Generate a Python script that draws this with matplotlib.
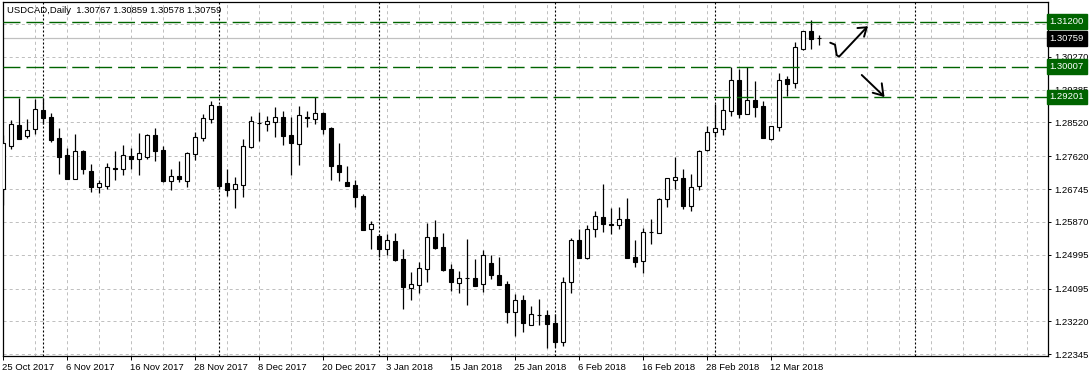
import matplotlib
matplotlib.use('Agg')
import matplotlib.pyplot as plt
import matplotlib.transforms as mtransforms

plt.rcParams['font.family'] = ['Liberation Sans', 'DejaVu Sans']
plt.rcParams['lines.scale_dashes'] = False

# USDCAD daily candles, 25 Oct 2017 .. 20 Mar 2018
opens = [1.26747, 1.27900, 1.28443, 1.28166, 1.28337, 1.28851, 1.28656, 1.28105, 1.27652, 1.27021,
         1.27759, 1.27226, 1.26808, 1.26835, 1.27300, 1.27288, 1.27626, 1.27554, 1.27607, 1.28177,
         1.27785, 1.26968, 1.27093, 1.26968, 1.27687, 1.28113, 1.28619, 1.28949, 1.26899, 1.26739,
         1.26861, 1.27857, 1.28512, 1.28486, 1.28539, 1.28664, 1.28185, 1.27937, 1.28656, 1.28603,
         1.28771, 1.28371, 1.27386, 1.26925, 1.26853, 1.26561, 1.25674, 1.25495, 1.25141, 1.25354,
         1.24883, 1.24119, 1.24198, 1.24625, 1.25461, 1.25194, 1.24608, 1.24252, 1.24369, 1.24369,
         1.24209, 1.24768, 1.24449, 1.24209, 1.23463, 1.23783, 1.23117, 1.23399, 1.23384, 1.23170,
         1.22681, 1.24262, 1.25381, 1.24917, 1.25674, 1.26001, 1.25815, 1.25780, 1.25940, 1.24928,
         1.24838, 1.25590, 1.25567, 1.26473, 1.26979, 1.27032, 1.26302, 1.26819, 1.27785, 1.28273,
         1.28337, 1.28832, 1.29642, 1.28752, 1.29117, 1.28957, 1.28086, 1.28406, 1.29676, 1.29562,
         1.30467, 1.30954, 1.30767]
highs = [1.28185, 1.28584, 1.29170, 1.28611, 1.29144, 1.29162, 1.28763, 1.28371, 1.27839, 1.28212,
         1.27785, 1.27413, 1.26987, 1.27431, 1.27759, 1.27919, 1.27839, 1.28230, 1.28204, 1.28371,
         1.27892, 1.27280, 1.27493, 1.27732, 1.28265, 1.28744, 1.29090, 1.28984, 1.27280, 1.27066,
         1.28078, 1.28683, 1.28797, 1.28683, 1.28923, 1.28824, 1.28656, 1.28957, 1.28824, 1.29201,
         1.28805, 1.28390, 1.27972, 1.27359, 1.26987, 1.26614, 1.25895, 1.25549, 1.25549, 1.25575,
         1.25149, 1.24537, 1.24803, 1.25850, 1.25921, 1.25583, 1.24750, 1.24555, 1.25415, 1.24891,
         1.25122, 1.24997, 1.24936, 1.24289, 1.23951, 1.23916, 1.23631, 1.23818, 1.23525, 1.23418,
         1.24395, 1.25450, 1.25682, 1.25788, 1.26161, 1.26872, 1.26241, 1.26268, 1.26507, 1.25389,
         1.25700, 1.25948, 1.26499, 1.27032, 1.27599, 1.27280, 1.27138, 1.27777, 1.28425, 1.29002,
         1.29162, 1.30004, 1.29943, 1.30004, 1.29623, 1.29090, 1.28425, 1.29828, 1.29756, 1.30670,
         1.30954, 1.31239, 1.30859]
lows = [1.26321, 1.27820, 1.28086, 1.28113, 1.28220, 1.28470, 1.28006, 1.27146, 1.27021, 1.27021,
        1.27146, 1.26675, 1.26648, 1.26747, 1.26987, 1.27120, 1.27288, 1.27128, 1.27554, 1.27501,
        1.26941, 1.26728, 1.26941, 1.26808, 1.27519, 1.28033, 1.28512, 1.26739, 1.26568, 1.26249,
        1.26542, 1.27839, 1.28033, 1.28291, 1.28140, 1.27927, 1.27128, 1.27394, 1.28406, 1.28486,
        1.28204, 1.26995, 1.26968, 1.26835, 1.26268, 1.25663, 1.25157, 1.24944, 1.24989, 1.24838,
        1.23559, 1.23791, 1.23986, 1.24270, 1.25157, 1.24571, 1.24039, 1.23986, 1.23666, 1.24172,
        1.24004, 1.24358, 1.24198, 1.23186, 1.22840, 1.22947, 1.23117, 1.23117, 1.22521, 1.22547,
        1.22566, 1.23986, 1.24917, 1.24891, 1.25477, 1.25610, 1.25557, 1.25690, 1.24917, 1.24678,
        1.24518, 1.25290, 1.25567, 1.26260, 1.26739, 1.26206, 1.26153, 1.26720, 1.27770, 1.28140,
        1.28185, 1.28699, 1.28630, 1.28752, 1.28672, 1.28097, 1.28052, 1.28299, 1.29216, 1.29437,
        1.30448, 1.30467, 1.30578]
closes = [1.27964, 1.28470, 1.28086, 1.28310, 1.28869, 1.28646, 1.28060, 1.27607, 1.27021, 1.27751,
          1.27288, 1.26808, 1.26907, 1.27333, 1.27290, 1.27644, 1.27554, 1.27698, 1.28177, 1.27767,
          1.26960, 1.27085, 1.27021, 1.27698, 1.28124, 1.28630, 1.28976, 1.26835, 1.26728, 1.26872,
          1.27884, 1.28550, 1.28496, 1.28558, 1.28656, 1.28166, 1.27964, 1.28718, 1.28638, 1.28763,
          1.28353, 1.27359, 1.27200, 1.26835, 1.26542, 1.25663, 1.25807, 1.25141, 1.25381, 1.24856,
          1.24145, 1.24209, 1.24643, 1.25461, 1.25184, 1.24598, 1.24278, 1.24369, 1.24365, 1.24172,
          1.24981, 1.24449, 1.24198, 1.23479, 1.23783, 1.23186, 1.23410, 1.23384, 1.23160, 1.22681,
          1.24262, 1.25389, 1.24917, 1.25674, 1.26020, 1.25807, 1.25780, 1.25940, 1.24917, 1.24811,
          1.25594, 1.25600, 1.26481, 1.27032, 1.27058, 1.26302, 1.26792, 1.27759, 1.28273, 1.28363,
          1.28851, 1.29642, 1.28752, 1.29117, 1.28939, 1.28105, 1.28425, 1.29642, 1.29551, 1.30520,
          1.30954, 1.30749, 1.30759]

date_idx = [0, 8, 16, 24, 32, 40, 48, 56, 64, 72, 80, 88, 96]
date_labels = ['25 Oct 2017', '6 Nov 2017', '16 Nov 2017', '28 Nov 2017', '8 Dec 2017',
               '20 Dec 2017', '3 Jan 2018', '15 Jan 2018', '25 Jan 2018', '6 Feb 2018',
               '16 Feb 2018', '28 Feb 2018', '12 Mar 2018']
month_sep_idx = [5, 27, 47, 69, 89, 114]
price_grid = [1.31150, 1.30270, 1.29385, 1.28520, 1.27620, 1.26745,
              1.25870, 1.24995, 1.24095, 1.23220, 1.22345]
levels = [1.31200, 1.30007, 1.29201]
bid = 1.30759
title = 'USDCAD,Daily  1.30767 1.30859 1.30578 1.30759'

# hand drawn arrows (bar index, price)
arrow_up_x = [103.4, 104.0, 104.2, 104.5, 107.96]
arrow_up_y = [1.30643, 1.30590, 1.30315, 1.30270, 1.31053]
arrow_up_head_x = [106.8, 107.96, 107.63]
arrow_up_head_y = [1.31034, 1.31053, 1.30803]
arrow_dn_x = [107.34, 110.04]
arrow_dn_y = [1.29783, 1.29231]
arrow_dn_head_x = [108.71, 110.04, 109.84]
arrow_dn_head_y = [1.29311, 1.29231, 1.29562]

W, H = 1091, 377
fig = plt.figure(figsize=(W / 100, H / 100), dpi=100)
ax = fig.add_axes([2.7 / W, 21 / H, (1048 - 2.7) / W, (356 - 2) / H])
ax.set_xlim(-0.04, 130.62)
ax.set_ylim(1.22300, 1.31727)

# grid
for i in range(4, 131, 4):
    ax.axvline(i, color='#c0c0c0', lw=0.72, ls=(0, (2.2, 2.2)), zorder=0)
for p in price_grid:
    ax.axhline(p, color='#c0c0c0', lw=0.72, ls=(0, (2.2, 2.2)), zorder=0)
for i in month_sep_idx:
    ax.axvline(i, color='black', lw=0.8, ls=(0, (1.44, 1.44)), zorder=1)
ax.axhline(bid, color='#c0c0c0', lw=0.9, zorder=1)

# candles
xs = list(range(len(opens)))
ax.vlines(xs, lows, highs, color='black', lw=0.9, zorder=3)
faces = ['white' if c >= o else 'black' for o, c in zip(opens, closes)]
heights = [c - o for o, c in zip(opens, closes)]
ax.bar(xs, heights, bottom=opens, width=0.55, color=faces, edgecolor='black',
       linewidth=0.8, zorder=4)

# horizontal levels
for p in levels:
    ax.axhline(p, color='#006400', lw=1.0, ls=(0, (12.2, 4.3)), zorder=5)

# arrows
for px, py in [(arrow_up_x, arrow_up_y), (arrow_up_head_x, arrow_up_head_y),
               (arrow_dn_x, arrow_dn_y), (arrow_dn_head_x, arrow_dn_head_y)]:
    ax.plot(px, py, color='black', lw=1.4, solid_capstyle='round',
            solid_joinstyle='round', zorder=6)

# axes
for s in ax.spines.values():
    s.set_linewidth(0.9)
    s.set_color('black')
ax.yaxis.tick_right()
ax.set_yticks(price_grid)
ax.set_yticklabels(['%.5f' % p for p in price_grid])
ax.set_xticks(date_idx)
ax.set_xticklabels(date_labels, ha='left')
ax.tick_params(axis='y', direction='out', length=2.5, width=0.7, pad=2, labelsize=6.8)
ax.tick_params(axis='x', direction='out', length=3, width=0.7, pad=2, labelsize=6.8)
for lab in ax.get_xticklabels():
    lab.set_x(lab.get_position()[0])
offset = mtransforms.ScaledTranslation(-1 / 100, 0, fig.dpi_scale_trans)
for lab in ax.get_xticklabels():
    lab.set_transform(lab.get_transform() + offset)

# price boxes on the right scale
trans = mtransforms.blended_transform_factory(ax.transAxes, ax.transData)
for p, c in [(levels[0], '#006400'), (levels[1], '#006400'), (levels[2], '#006400'), (bid, 'black')]:
    ax.text(1.0015, p, '%.5f' % p, transform=trans, color='white', fontsize=6.8,
            ha='left', va='center', clip_on=False, zorder=10,
            bbox=dict(boxstyle='square,pad=0.3', fc=c, ec=c))

fig.text(7 / W, 1 - 10.7 / H, title, fontsize=6.8, ha='left', va='center')

fig.savefig('out.png', dpi=100)
